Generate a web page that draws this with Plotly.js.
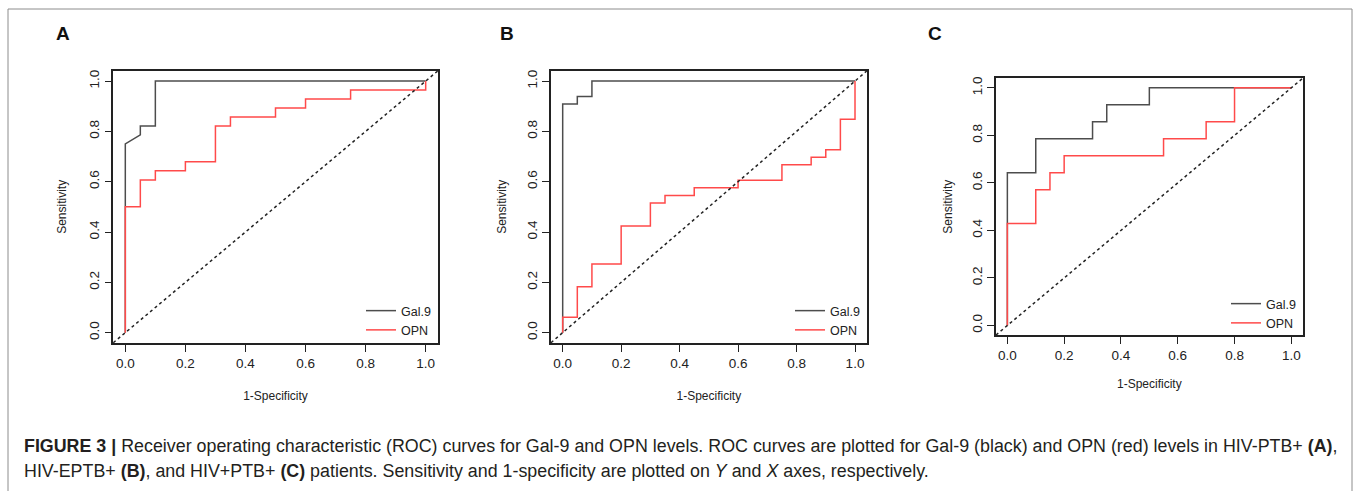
<!DOCTYPE html>
<html>
<head>
<meta charset="utf-8">
<script src="https://cdn.plot.ly/plotly-3.0.1.min.js"></script>
<style>
html,body{margin:0;padding:0;background:#fff;}
#chart{width:1360px;height:491px;}
</style>
</head>
<body>
<div id="chart"></div>
<script>
// ---------- DATA (ROC curve vertices: 1-Specificity, Sensitivity) ----------
const seriesNames = ["Gal.9", "OPN"];
const panelLabels = ["A", "B", "C"];
const tickVals = [0, 0.2, 0.4, 0.6, 0.8, 1.0];
const tickText = ["0.0", "0.2", "0.4", "0.6", "0.8", "1.0"];

// Panel A (HIV-PTB+)
const aGalFpr = [0, 0, 0.05, 0.05, 0.10, 0.10, 1.0];
const aGalTpr = [0, 0.750, 0.786, 0.821, 0.821, 1.0, 1.0];
const aOpnFpr = [0, 0, 0.05, 0.05, 0.10, 0.10, 0.20, 0.20, 0.30, 0.30, 0.35, 0.35, 0.50, 0.50, 0.60, 0.60, 0.75, 0.75, 1.0, 1.0];
const aOpnTpr = [0, 0.500, 0.500, 0.607, 0.607, 0.643, 0.643, 0.679, 0.679, 0.821, 0.821, 0.857, 0.857, 0.893, 0.893, 0.929, 0.929, 0.964, 0.964, 1.0];

// Panel B (HIV-EPTB+)
const bGalFpr = [0, 0, 0.05, 0.05, 0.10, 0.10, 1.0];
const bGalTpr = [0, 0.909, 0.909, 0.939, 0.939, 1.0, 1.0];
const bOpnFpr = [0, 0, 0.05, 0.05, 0.10, 0.10, 0.20, 0.20, 0.30, 0.30, 0.35, 0.35, 0.45, 0.45, 0.60, 0.60, 0.75, 0.75, 0.85, 0.85, 0.90, 0.90, 0.95, 0.95, 1.0, 1.0];
const bOpnTpr = [0, 0.061, 0.061, 0.182, 0.182, 0.273, 0.273, 0.424, 0.424, 0.515, 0.515, 0.545, 0.545, 0.576, 0.576, 0.606, 0.606, 0.667, 0.667, 0.697, 0.697, 0.727, 0.727, 0.848, 0.848, 1.0];

// Panel C (HIV+PTB+)
const cGalFpr = [0, 0, 0.10, 0.10, 0.30, 0.30, 0.35, 0.35, 0.50, 0.50, 1.0];
const cGalTpr = [0, 0.643, 0.643, 0.786, 0.786, 0.857, 0.857, 0.929, 0.929, 1.0, 1.0];
const cOpnFpr = [0, 0, 0.10, 0.10, 0.15, 0.15, 0.20, 0.20, 0.55, 0.55, 0.70, 0.70, 0.80, 0.80, 1.0];
const cOpnTpr = [0, 0.429, 0.429, 0.571, 0.571, 0.643, 0.643, 0.714, 0.714, 0.786, 0.786, 0.857, 0.857, 1.0, 1.0];

const captionLine1 = "<b>FIGURE 3 |</b> Receiver operating characteristic (ROC) curves for Gal-9 and OPN levels. ROC curves are plotted for Gal-9 (black) and OPN (red) levels in HIV-PTB+ <b>(A)</b>,";
const captionLine2 = "HIV-EPTB+ <b>(B)</b>, and HIV+PTB+ <b>(C)</b> patients. Sensitivity and 1-specificity are plotted on <i>Y</i> and <i>X</i> axes, respectively.";

// ---------- LAYOUT ----------
const W = 1360, H = 491;
const FONT = "'Liberation Sans', Arial, Helvetica, sans-serif";
const galColor = "#4d4d4d";
const opnColor = "#ff4a4a";
const px = v => v / W;
const py = v => 1 - v / H;

// plot boxes in pixels [left, right, top, bottom]
const boxes = [
  [113.3, 437.7, 71, 342.7],
  [551, 866.7, 71, 342.7],
  [996, 1302.7, 78.3, 335]
];
const labelPos = [[63, 34], [507, 34], [935, 34]];
const xTitleStandoff = [22, 22, 18];
const yTitleStandoff = [18, 16, 15];
const legendPos = [[436, 345], [865, 345], [1301, 338]];

const panels = [
  {gx: aGalFpr, gy: aGalTpr, ox: aOpnFpr, oy: aOpnTpr},
  {gx: bGalFpr, gy: bGalTpr, ox: bOpnFpr, oy: bOpnTpr},
  {gx: cGalFpr, gy: cGalTpr, ox: cOpnFpr, oy: cOpnTpr}
];

const traces = [];
const layout = {
  width: W, height: H,
  margin: {l: 0, r: 0, t: 0, b: 0},
  paper_bgcolor: "#fff", plot_bgcolor: "#fff",
  font: {family: FONT, color: "#222"},
  showlegend: true,
  shapes: [],
  annotations: []
};

panels.forEach((p, i) => {
  const n = i === 0 ? "" : String(i + 1);
  const xa = "x" + n, ya = "y" + n;
  const lg = "legend" + n;
  traces.push({
    x: p.gx, y: p.gy, type: "scatter", mode: "lines", name: seriesNames[0],
    xaxis: xa, yaxis: ya, legend: lg,
    line: {color: galColor, width: 1.5}, hoverinfo: "x+y"
  });
  traces.push({
    x: p.ox, y: p.oy, type: "scatter", mode: "lines", name: seriesNames[1],
    xaxis: xa, yaxis: ya, legend: lg,
    line: {color: opnColor, width: 1.5}, hoverinfo: "x+y"
  });
  const b = boxes[i];
  const axCommon = {
    range: [-0.04, 1.04], showgrid: false, zeroline: false,
    showline: true, mirror: true, linecolor: "#222", linewidth: 1.6,
    ticks: "outside", ticklen: 7, tickwidth: 1.2, tickcolor: "#222",
    tickvals: tickVals, ticktext: tickText,
    tickfont: {family: FONT, size: 13.5, color: "#222"},
    fixedrange: true
  };
  layout["xaxis" + n] = Object.assign({}, axCommon, {
    domain: [px(b[0]), px(b[1])], anchor: ya,
    title: {text: "1-Specificity", font: {family: FONT, size: 12, color: "#222"}, standoff: xTitleStandoff[i]}
  });
  layout["yaxis" + n] = Object.assign({}, axCommon, {
    domain: [py(b[3]), py(b[2])], anchor: xa, tickangle: -90,
    title: {text: "Sensitivity", font: {family: FONT, size: 12, color: "#222"}, standoff: yTitleStandoff[i]}
  });
  layout[lg] = {
    x: px(legendPos[i][0]), y: py(legendPos[i][1]), xanchor: "right", yanchor: "bottom",
    bgcolor: "rgba(0,0,0,0)", borderwidth: 0,
    font: {family: FONT, size: 12.5, color: "#222"},
    tracegroupgap: 0, itemwidth: 30
  };
  // chance diagonal across the whole box
  layout.shapes.push({
    type: "line", xref: xa + " domain", yref: ya + " domain",
    x0: 0, y0: 0, x1: 1, y1: 1,
    line: {color: "#222", width: 1.5, dash: "3px,3px"}
  });
  layout.annotations.push({
    text: "<b>" + panelLabels[i] + "</b>", xref: "paper", yref: "paper",
    x: px(labelPos[i][0]), y: py(labelPos[i][1]), xanchor: "center", yanchor: "middle",
    showarrow: false, font: {family: FONT, size: 19, color: "#111"}
  });
});

// figure frame (left, top, right edges)
layout.shapes.push({
  type: "path", xref: "paper", yref: "paper",
  path: `M ${px(8)} ${py(491)} L ${px(8)} ${py(9)} L ${px(1352)} ${py(9)} L ${px(1352)} ${py(491)}`,
  line: {color: "#8c8c8c", width: 1}
});

layout.annotations.push({
  text: captionLine1, xref: "paper", yref: "paper", x: px(22), y: py(446),
  xanchor: "left", yanchor: "middle", showarrow: false, align: "left",
  font: {family: FONT, size: 17.85, color: "#231f20"}
});
layout.annotations.push({
  text: captionLine2, xref: "paper", yref: "paper", x: px(22), y: py(471),
  xanchor: "left", yanchor: "middle", showarrow: false, align: "left",
  font: {family: FONT, size: 17.85, color: "#231f20"}
});

Plotly.newPlot("chart", traces, layout, {displayModeBar: false, staticPlot: false});
</script>
</body>
</html>
